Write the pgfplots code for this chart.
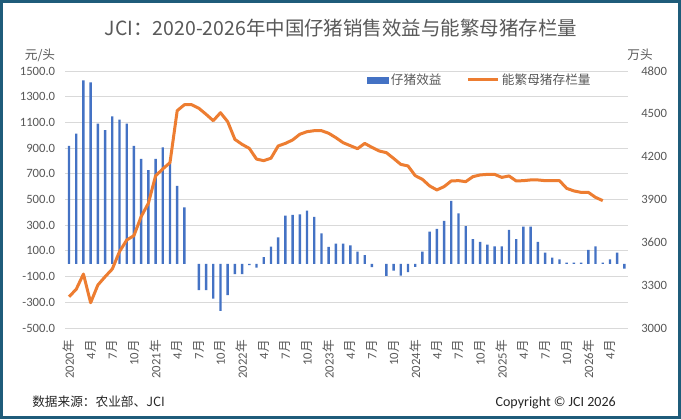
\documentclass[border=0pt]{standalone}
\usepackage{pgfplots}
\pgfplotsset{compat=1.18}
\usepackage{fontspec}
\setmainfont{Carlito}
\newfontfamily\cjk{Noto Sans CJK SC}
\definecolor{barblue}{HTML}{4472C4}
\definecolor{lineorange}{HTML}{ED7D31}
\definecolor{txt}{HTML}{595959}
\definecolor{gridc}{HTML}{D9D9D9}
\definecolor{frameC}{HTML}{1F5C7A}
\newcommand{\Y}{{\cjk 年}}
\newcommand{\M}{{\cjk 月}}
\newcommand{\sz}{\fontsize{9.5}{11}\selectfont}
\begin{document}
\begin{tikzpicture}
\useasboundingbox (0,0) rectangle (510.75pt,314.25pt);
\fill[white] (0,0) rectangle (510.75pt,314.25pt);
\begin{axis}[
  at={(49.05pt,68.25pt)}, anchor=south west,
  scale only axis, width=421.95pt, height=192.75pt,
  xmin=-0.5, xmax=77.5, ymin=-500, ymax=1500,
  ytick={-500,-300,...,1500},
  xtick={0,3,...,75},
  xticklabels={2020\Y,4\M,7\M,10\M,2021\Y,4\M,7\M,10\M,2022\Y,4\M,7\M,10\M,2023\Y,4\M,7\M,10\M,2024\Y,4\M,7\M,10\M,2025\Y,4\M,7\M,10\M,2026\Y,4\M},
  xticklabel style={rotate=90, anchor=east, inner sep=0pt, font=\sz, text=txt},
  xticklabel shift=9pt,
  yticklabel style={anchor=east, inner sep=0pt, font=\sz, text=txt},
  yticklabel shift=7.5pt,
  /pgf/number format/.cd, fixed, fixed zerofill, precision=1, 1000 sep={}, assume math mode=true,
  /pgfplots/.cd,
  ymajorgrids, major grid style={gridc, line width=0.75pt},
  axis line style={draw=none}, major tick style={draw=none},
  clip=false,
]
\addplot[ybar, bar width=1.8pt, fill=barblue, draw=none] coordinates {
(0,918) (1,1012) (2,1427) (3,1411) (4,1090) (5,1040) (6,1147) (7,1121) (8,1090) (9,918)
(10,817) (11,729) (12,817) (13,905) (14,781) (15,607) (16,438)
(18,-205) (19,-205) (20,-272) (21,-366) (22,-244) (23,-81) (24,-81) (25,-10) (26,-31) (27,51)
(28,134) (29,206) (30,374) (31,380) (32,385) (33,413) (34,364) (35,237) (36,131) (37,156)
(38,156) (39,144) (40,94) (41,68) (42,-27)
(44,-95) (45,-53) (46,-92) (47,-66) (48,-25) (49,94) (50,250) (51,271) (52,333) (53,489)
(54,393) (55,292) (56,191) (57,170) (58,149) (59,136) (60,136) (61,263) (62,191) (63,289)
(64,289) (65,170) (66,87) (67,48) (68,35) (69,8) (70,8) (71,8) (72,108) (73,136)
(74,8) (75,35) (76,87) (77,-38)
};
\end{axis}
\begin{axis}[
  at={(49.05pt,68.25pt)}, anchor=south west,
  scale only axis, width=421.95pt, height=192.75pt,
  xmin=-0.5, xmax=77.5, ymin=3000, ymax=4800,
  ytick={3000,3300,...,4800},
  axis x line=none, axis y line*=right,
  yticklabel style={anchor=west, inner sep=0pt, font=\sz, text=txt},
  yticklabel shift=9.75pt,
  /pgf/number format/.cd, fixed, precision=0, 1000 sep={}, assume math mode=true,
  /pgfplots/.cd,
  axis line style={draw=none}, major tick style={draw=none},
  legend columns=2,
  legend style={at={(0.737,0.965)}, anchor=center, draw=none, fill=none,
    font=\cjk\sz, text=txt, inner sep=0pt,
    /tikz/every even column/.append style={column sep=17pt},
    nodes={inner sep=1.5pt}},
]
\addlegendimage{legend image code/.code={\fill[barblue] (0pt,-2.2pt) rectangle (15.75pt,2.2pt);}}
\addlegendentry{仔猪效益}
\addplot[lineorange, line width=2.25pt, line join=round,
  legend image code/.code={\draw[lineorange, line width=2.25pt] (0pt,0pt) -- (23pt,0pt);}] coordinates {
(0,3219) (1,3271) (2,3378) (3,3177) (4,3301) (5,3359) (6,3413) (7,3535) (8,3616) (9,3647)
(10,3780) (11,3873) (12,4065) (13,4114) (14,4158) (15,4522) (16,4564) (17,4564) (18,4539) (19,4497)
(20,4452) (21,4508) (22,4445) (23,4321) (24,4286) (25,4258) (26,4183) (27,4172) (28,4189) (29,4275)
(30,4293) (31,4317) (32,4357) (33,4375) (34,4382) (35,4382) (36,4364) (37,4333) (38,4298) (39,4277)
(40,4256) (41,4293) (42,4265) (43,4240) (44,4228) (45,4188) (46,4146) (47,4135) (48,4067) (49,4041)
(50,3995) (51,3967) (52,3990) (53,4030) (54,4032) (55,4025) (56,4060) (57,4072) (58,4076) (59,4076)
(60,4055) (61,4065) (62,4030) (63,4032) (64,4037) (65,4037) (66,4032) (67,4032) (68,4032) (69,3978)
(70,3960) (71,3950) (72,3950) (73,3915) (74,3892)
};
\addlegendentry{能繁母猪存栏量}
\end{axis}
\node[text=txt, font=\cjk\fontsize{14.6}{16}\selectfont] at (255.75pt,293.25pt) {JCI：2020-2026年中国仔猪销售效益与能繁母猪存栏量};
\node[text=txt, font=\cjk\sz] at (30pt,273pt) {元/头};
\node[text=txt, font=\cjk\sz] at (480pt,273pt) {万头};
\node[anchor=west, text=black!85, font=\cjk\sz, inner sep=0pt] at (24pt,12.75pt) {数据来源：农业部、JCI};
\node[anchor=east, text=black!85, font=\fontsize{10.5}{12}\selectfont, inner sep=0pt] at (462pt,12pt) {Copyright \textcopyright{} JCI 2026};
\draw[frameC, line width=2.25pt] (1.125pt,1.125pt) rectangle (509.625pt,313.125pt);
\end{tikzpicture}
\end{document}
